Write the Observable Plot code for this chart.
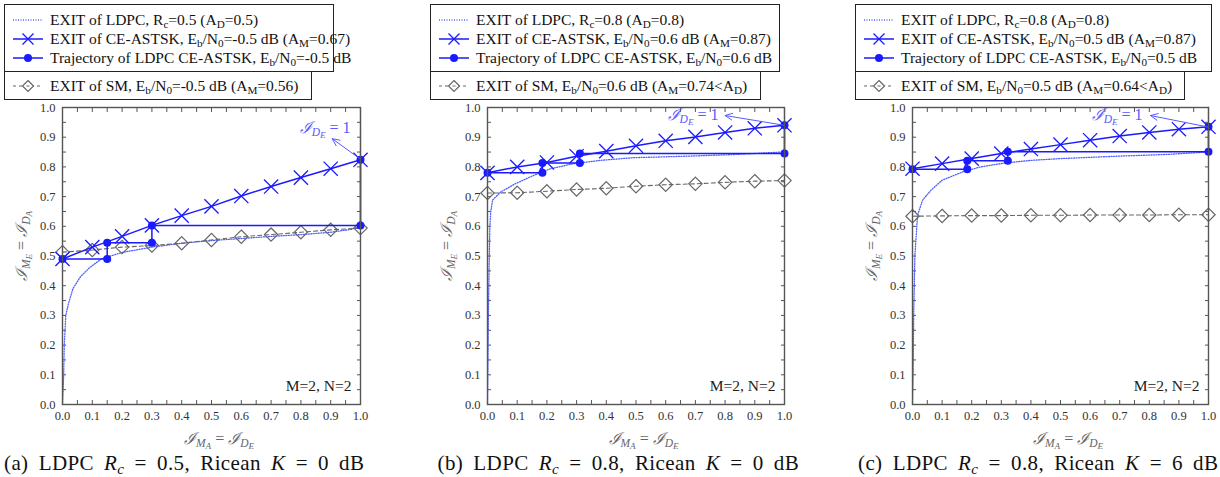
<!DOCTYPE html>
<html><head><meta charset="utf-8">
<script src="https://cdn.jsdelivr.net/npm/d3@7"></script>
<script src="https://cdn.jsdelivr.net/npm/@observablehq/plot@0.6"></script>
<style>
body{margin:0;background:#fff;font-family:"Liberation Serif","Times New Roman","DejaVu Serif",serif;}
#root{position:relative;width:1220px;height:477px;overflow:hidden;}
.panel{position:absolute;top:100px;}
.box{position:absolute;border:1.3px solid #222;box-sizing:border-box;background:#fff;}
.row{position:absolute;left:0;display:flex;align-items:center;font-size:15.5px;color:#111;white-space:nowrap;height:19px;}
.row svg{margin-left:8px;margin-right:7px;flex:none;}
sub{font-size:0.72em;vertical-align:-0.25em;line-height:0;}
sub sub{font-size:0.8em;vertical-align:-0.2em;}
.cap{position:absolute;font-size:21px;line-height:1;word-spacing:4.5px;letter-spacing:0.4px;color:#111;white-space:nowrap;}
.xl,.yl{position:absolute;font-size:16px;line-height:1;color:#666;white-space:nowrap;}
.ann{position:absolute;font-size:16px;line-height:1;color:#5a5aff;white-space:nowrap;transform:translate(-50%,-50%);}
.ml{font-family:"DejaVu Serif",serif;font-style:italic;}
</style></head>
<body><div id="root"></div>
<script>
// ---------- data ----------
const xMarks = [0,0.1,0.2,0.3,0.4,0.5,0.6,0.7,0.8,0.9,1.0];
const ticksMajor = [0,0.1,0.2,0.3,0.4,0.5,0.6,0.7,0.8,0.9,1.0];
const ticksMinor = [0,0.05,0.1,0.15,0.2,0.25,0.3,0.35,0.4,0.45,0.5,0.55,0.6,0.65,0.7,0.75,0.8,0.85,0.9,0.95,1.0];

// panel (a)
const ceA = [0.49,0.53,0.566,0.603,0.636,0.667,0.702,0.734,0.764,0.794,0.824];
const smA = [0.513,0.52,0.53,0.535,0.543,0.554,0.565,0.572,0.58,0.588,0.594];
const ldpcAx = [0,0.002,0.004,0.006,0.011,0.02,0.035,0.06,0.09,0.13,0.2,0.3,0.4,0.5,0.6,0.7,0.8,0.9,0.97,1,1];
const ldpcAy = [0,0.05,0.1,0.2,0.3,0.34,0.39,0.43,0.46,0.49,0.512,0.53,0.543,0.552,0.559,0.566,0.572,0.58,0.59,0.6,1];
const trajAx = [0,0.15,0.15,0.3,0.3,1,1];
const trajAy = [0.49,0.49,0.545,0.545,0.603,0.603,0.824];
const annA = {tx:0.883, ty:0.93, x1:1.0, y1:0.826, x2:0.905, y2:0.895};

// panel (b)
const ceB = [0.78,0.8,0.815,0.836,0.853,0.871,0.888,0.901,0.916,0.93,0.94];
const smB = [0.712,0.713,0.718,0.724,0.728,0.735,0.74,0.743,0.748,0.752,0.754];
const ldpcBx = [0,0.003,0.006,0.008,0.011,0.017,0.045,0.095,0.157,0.213,0.29,0.38,0.49,0.67,0.84,0.99,1,1];
const ldpcBy = [0,0.3,0.5,0.6,0.65,0.688,0.716,0.744,0.772,0.794,0.811,0.822,0.831,0.836,0.842,0.85,0.86,1];
const trajBx = [0,0.185,0.185,0.311,0.311,1,1];
const trajBy = [0.78,0.78,0.813,0.813,0.845,0.845,0.94];
const annB = {tx:0.694, ty:0.973, x1:1.0, y1:0.94, x2:0.80, y2:0.973};

// panel (c)
const ceC = [0.794,0.811,0.828,0.845,0.86,0.875,0.89,0.904,0.916,0.927,0.935];
const smC = [0.634,0.635,0.636,0.636,0.637,0.637,0.638,0.638,0.638,0.639,0.639];
const ldpcCx = [0,0.002,0.004,0.008,0.017,0.034,0.062,0.1,0.169,0.23,0.31,0.4,0.5,0.69,0.86,0.995,1,1];
const ldpcCy = [0,0.1,0.3,0.5,0.637,0.688,0.721,0.755,0.783,0.8,0.813,0.822,0.828,0.836,0.842,0.85,0.86,1];
const trajCx = [0,0.185,0.185,0.322,0.322,1,1];
const trajCy = [0.792,0.792,0.821,0.821,0.851,0.851,0.935];
const annC = {tx:0.693, ty:0.973, x1:1.0, y1:0.934, x2:0.804, y2:0.973};

const legendA = ["EXIT of LDPC, R<sub>c</sub>=0.5 (A<sub>D</sub>=0.5)",
  "EXIT of CE-ASTSK, E<sub>b</sub>/N<sub>0</sub>=-0.5 dB (A<sub>M</sub>=0.67)",
  "Trajectory of LDPC CE-ASTSK, E<sub>b</sub>/N<sub>0</sub>=-0.5 dB",
  "EXIT of SM, E<sub>b</sub>/N<sub>0</sub>=-0.5 dB (A<sub>M</sub>=0.56)"];
const legendB = ["EXIT of LDPC, R<sub>c</sub>=0.8 (A<sub>D</sub>=0.8)",
  "EXIT of CE-ASTSK, E<sub>b</sub>/N<sub>0</sub>=0.6 dB (A<sub>M</sub>=0.87)",
  "Trajectory of LDPC CE-ASTSK, E<sub>b</sub>/N<sub>0</sub>=0.6 dB",
  "EXIT of SM, E<sub>b</sub>/N<sub>0</sub>=0.6 dB (A<sub>M</sub>=0.74&lt;A<sub>D</sub>)"];
const legendC = ["EXIT of LDPC, R<sub>c</sub>=0.8 (A<sub>D</sub>=0.8)",
  "EXIT of CE-ASTSK, E<sub>b</sub>/N<sub>0</sub>=0.5 dB (A<sub>M</sub>=0.87)",
  "Trajectory of LDPC CE-ASTSK, E<sub>b</sub>/N<sub>0</sub>=0.5 dB",
  "EXIT of SM, E<sub>b</sub>/N<sub>0</sub>=0.5 dB (A<sub>M</sub>=0.64&lt;A<sub>D</sub>)"];
const captions = [
  "(a) LDPC <i>R<sub>c</sub></i> = 0.5, Ricean <i>K</i> = 0 dB",
  "(b) LDPC <i>R<sub>c</sub></i> = 0.8, Ricean <i>K</i> = 0 dB",
  "(c) LDPC <i>R<sub>c</sub></i> = 0.8, Ricean <i>K</i> = 6 dB"];
const boxText = "M=2, N=2";

// ---------- style ----------
const BLUE = "#1a1aff", LBLUE = "#5060ff", ANN = "#5a5aff", GRAY = "#666", FRAME = "#555";
const SERIF = '"Liberation Serif", "Times New Roman", serif';

const panels = [
  {left:0,   width:380, mr:20, legLeft:4,   b1:330, b2:308, capShift:-27, ce:ceA, sm:smA, lx:ldpcAx, ly:ldpcAy, tx:trajAx, ty:trajAy, ann:annA, legend:legendA, cap:captions[0]},
  {left:425, width:380, mr:21, legLeft:430, b1:350, b2:331, capShift:-17, ce:ceB, sm:smB, lx:ldpcBx, ly:ldpcBy, tx:trajBx, ty:trajBy, ann:annB, legend:legendB, cap:captions[1]},
  {left:850, width:370, mr:12, legLeft:855, b1:357, b2:330, capShift:-22, ce:ceC, sm:smC, lx:ldpcCx, ly:ldpcCy, tx:trajCx, ty:trajCy, ann:annC, legend:legendC, cap:captions[2]}
];

const swatches = [
  `<svg width="30" height="14"><line x1="0" y1="7" x2="30" y2="7" stroke="${LBLUE}" stroke-width="1.3" stroke-dasharray="1,1.5"/></svg>`,
  `<svg width="30" height="14"><line x1="0" y1="7" x2="30" y2="7" stroke="${BLUE}" stroke-width="1.5"/><path d="M9.5,1.5L20.5,12.5M9.5,12.5L20.5,1.5" stroke="${BLUE}" stroke-width="1.3"/></svg>`,
  `<svg width="30" height="14"><line x1="0" y1="7" x2="30" y2="7" stroke="${BLUE}" stroke-width="1.5"/><circle cx="15" cy="7" r="4" fill="${BLUE}"/></svg>`,
  `<svg width="30" height="14"><line x1="0" y1="7" x2="30" y2="7" stroke="${GRAY}" stroke-width="1.1" stroke-dasharray="3,3"/><path d="M15,1.5L20.5,7L15,12.5L9.5,7Z" fill="#fff" stroke="${GRAY}" stroke-width="1.2"/><line x1="13.5" y1="7" x2="16.5" y2="7" stroke="${GRAY}"/></svg>`
];

const root = document.getElementById("root");
const fmt = d3.format(".1f");
const IL = '<span class="ml">ℐ</span>';

function el(cls, html, css) {
  const d = document.createElement("div");
  d.className = cls; d.innerHTML = html; Object.assign(d.style, css); root.appendChild(d); return d;
}

for (const p of panels) {
  const ce = p.ce.map((y, i) => ({x: xMarks[i], y}));
  const sm = p.sm.map((y, i) => ({x: xMarks[i], y}));
  const ldpc = p.lx.map((x, i) => ({x, y: p.ly[i]}));
  const traj = p.tx.map((x, i) => ({x, y: p.ty[i]}));

  const fig = Plot.plot({
    width: p.width, height: 354,
    marginTop: 7, marginBottom: 50, marginLeft: 62, marginRight: p.mr,
    style: {background: "transparent", fontFamily: SERIF, fontSize: "12.5px", color: "#333", overflow: "visible"},
    x: {domain: [0, 1], label: null},
    y: {domain: [0, 1], label: null},
    marks: [
      Plot.axisX(ticksMinor, {anchor: "bottom", tickSize: 4, dy: -4, fill: "none", stroke: FRAME}),
      Plot.axisX(ticksMinor, {anchor: "top", tickSize: 4, dy: 4, fill: "none", stroke: FRAME}),
      Plot.axisY(ticksMinor, {anchor: "left", tickSize: 4, dx: 4, fill: "none", stroke: FRAME}),
      Plot.axisY(ticksMinor, {anchor: "right", tickSize: 4, dx: -4, fill: "none", stroke: FRAME}),
      Plot.axisX(ticksMajor, {anchor: "bottom", tickSize: 0, tickPadding: 7, tickFormat: fmt, fill: "#333", fontFamily: SERIF}),
      Plot.axisY(ticksMajor, {anchor: "left", tickSize: 0, tickPadding: 7, tickFormat: fmt, fill: "#333", fontFamily: SERIF}),
      Plot.line(ldpc, {x: "x", y: "y", stroke: LBLUE, strokeWidth: 1.3, strokeDasharray: "1,1.5"}),
      Plot.line(sm, {x: "x", y: "y", stroke: GRAY, strokeWidth: 1.1, strokeDasharray: "4,3"}),
      Plot.dot(sm, {x: "x", y: "y", symbol: "diamond2", r: 6, stroke: GRAY, strokeWidth: 1.2, fill: "none"}),
      Plot.line(ce, {x: "x", y: "y", stroke: BLUE, strokeWidth: 1.5}),
      Plot.dot(ce, {x: "x", y: "y", symbol: "times", r: 6.5, stroke: BLUE, strokeWidth: 1.3}),
      Plot.line(traj, {x: "x", y: "y", stroke: BLUE, strokeWidth: 1.5}),
      Plot.dot(traj, {x: "x", y: "y", r: 4, fill: BLUE, stroke: "none"}),
      Plot.arrow([p.ann], {x1: "x1", y1: "y1", x2: "x2", y2: "y2", stroke: ANN, strokeWidth: 1, headLength: 12, headAngle: 50}),
      Plot.text([boxText], {text: d => d, frameAnchor: "bottom-right", dx: -9, dy: -14, fontSize: 15.5, fill: "#222", fontFamily: SERIF}),
      Plot.frame({stroke: FRAME, strokeWidth: 1.4})
    ]
  });
  const wrap = document.createElement("div");
  wrap.className = "panel";
  wrap.style.left = p.left + "px";
  wrap.appendChild(fig);
  root.appendChild(wrap);

  const sx = fig.scale("x"), sy = fig.scale("y");
  const fx0 = p.left + sx.apply(0), fx1 = p.left + sx.apply(1);
  const fy0 = 100 + sy.apply(0), fy1 = 100 + sy.apply(1);

  // annotation text
  el("ann", `${IL}<sub><i>D</i><sub><i>E</i></sub></sub> = 1`, {left: (p.left + sx.apply(p.ann.tx)) + "px", top: (100 + sy.apply(p.ann.ty)) + "px"});

  // axis labels
  const xl = el("xl", `${IL}<sub><i>M</i><sub><i>A</i></sub></sub> = ${IL}<sub><i>D</i><sub><i>E</i></sub></sub>`, {});
  xl.style.left = ((fx0 + fx1) / 2 + 8 - xl.offsetWidth / 2) + "px";
  xl.style.top = (fy0 + 27) + "px";
  const yl = el("yl", `${IL}<sub><i>M</i><sub><i>E</i></sub></sub> = ${IL}<sub><i>D</i><sub><i>A</i></sub></sub>`, {});
  const w = yl.offsetWidth, h = yl.offsetHeight;
  yl.style.left = (fx0 - 40 - w / 2) + "px";
  yl.style.top = ((fy0 + fy1) / 2 - 10 - h / 2) + "px";
  yl.style.transform = "rotate(-90deg)";

  // legend boxes
  const box1 = el("box", "", {left: p.legLeft + "px", top: "4px", width: p.b1 + "px", height: "68px"});
  const box2 = el("box", "", {left: p.legLeft + "px", top: "71px", width: p.b2 + "px", height: "29px"});
  const rowTops = [5, 24, 43];
  for (let i = 0; i < 3; i++) {
    const r = document.createElement("div");
    r.className = "row"; r.style.top = rowTops[i] + "px";
    r.innerHTML = swatches[i] + "<span>" + p.legend[i] + "</span>";
    box1.appendChild(r);
  }
  const r4 = document.createElement("div");
  r4.className = "row"; r4.style.top = "4px";
  r4.innerHTML = swatches[3] + "<span>" + p.legend[3] + "</span>";
  box2.appendChild(r4);

  // caption, centred under the plot frame
  const cap = el("cap", p.cap, {});
  cap.style.left = ((fx0 + fx1) / 2 + p.capShift - cap.offsetWidth / 2) + "px";
  cap.style.top = "453px";
}
</script>
</body></html>
